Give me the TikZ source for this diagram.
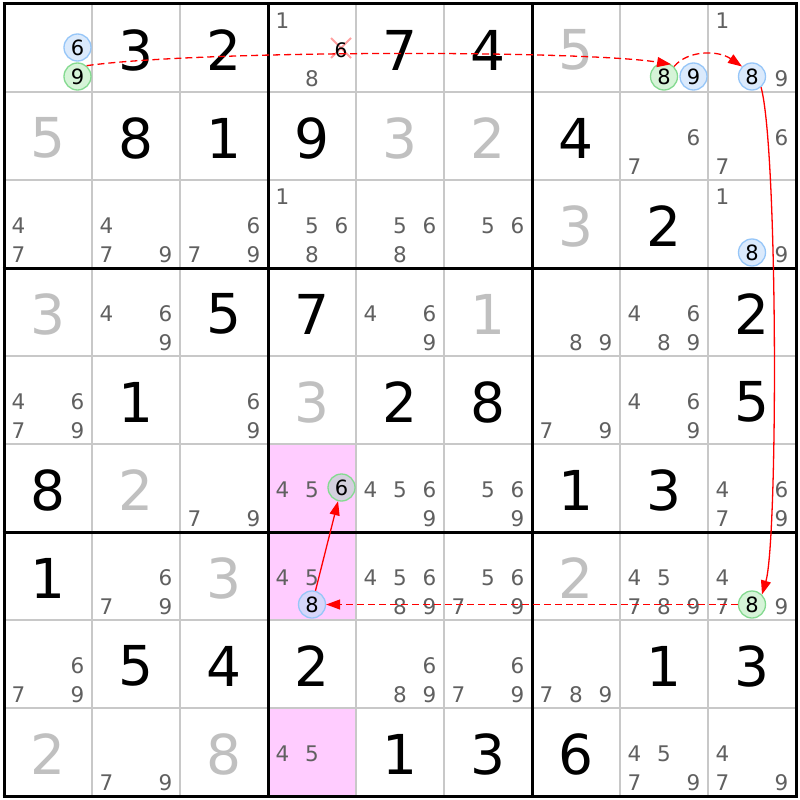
\documentclass[tikz,border=0pt]{standalone}
\usepackage{fontspec}
\setmainfont{DejaVu Sans}
\usetikzlibrary{arrows.meta}
\definecolor{thingrid}{RGB}{200,200,200}
\definecolor{solvedgray}{RGB}{192,192,192}
\definecolor{candgray}{RGB}{96,96,96}
\definecolor{pinkcell}{RGB}{255,204,255}
\definecolor{bluefill}{RGB}{219,234,252}
\definecolor{blueline}{RGB}{150,198,248}
\definecolor{greenfill}{RGB}{214,244,216}
\definecolor{greenline}{RGB}{132,218,144}
\definecolor{crossred}{RGB}{255,160,160}
\definecolor{linkred}{RGB}{255,0,0}
\newcommand\sdGiven[3]{\node[given] (g#1#2) at ({48+88*(#2-1)},{50+88*(#1-1)}) {#3};}
\newcommand\sdSolved[3]{\node[solvedd] (g#1#2) at ({48+88*(#2-1)},{50+88*(#1-1)}) {#3};}
\newcommand\sdCands[3]{\foreach \k in {#3}{\node[cand] (c#1#2\k) at ({18.5+88*(#2-1)+29.5*mod(\k-1,3)},{20.5+88*(#1-1)+29*int((\k-1)/3)}) {\k};}}
\newcommand\sdCirc[5]{\node[#4] (#5) at ({18.5+88*(#2-1)+29.5*mod(#3-1,3)},{18.5+88*(#1-1)+29*int((#3-1)/3)}) {#3};}
\begin{document}
\begin{tikzpicture}[x=1pt,y=-1pt,
  given/.style={text=black, font=\fontsize{55}{55}\selectfont, inner sep=0pt},
  solvedd/.style={given, text=solvedgray},
  cand/.style={text=candgray, font=\fontsize{21.5}{21.5}\selectfont, inner sep=0pt},
  bluec/.style={circle, draw=blueline, fill=bluefill, line width=1.3pt, minimum size=27pt, inner sep=0pt, font=\fontsize{21}{21}\selectfont, text=black},
  greenc/.style={bluec, draw=greenline, fill=greenfill},
  link/.style={draw=linkred, line width=1.3pt, -{Triangle[length=14pt,width=10pt,fill=linkred]}},
  weak/.style={link, dash pattern=on 7pt off 4pt}]
\useasboundingbox (0,0) rectangle (800,800);
\fill[white] (0,0) rectangle (800,800);
% highlighted cells
\fill[pinkcell] (268,444) rectangle (356,620);
\fill[pinkcell] (268,708) rectangle (356,796);
% grid
\foreach \i in {1,2,4,5,7,8}{
  \draw[thingrid, line width=1.2pt] ({4+88*\i},4) -- ({4+88*\i},796);
  \draw[thingrid, line width=1.2pt] (4,{4+88*\i}) -- (796,{4+88*\i});
}
\foreach \i in {0,3,6,9}{
  \draw[black, line width=3pt] ({4+88*\i},2.5) -- ({4+88*\i},797.5);
  \draw[black, line width=3pt] (2.5,{4+88*\i}) -- (797.5,{4+88*\i});
}
% givens
\sdGiven{1}{2}{3}\sdGiven{1}{3}{2}\sdGiven{1}{5}{7}\sdGiven{1}{6}{4}
\sdGiven{2}{2}{8}\sdGiven{2}{3}{1}\sdGiven{2}{4}{9}\sdGiven{2}{7}{4}
\sdGiven{3}{8}{2}
\sdGiven{4}{3}{5}\sdGiven{4}{4}{7}\sdGiven{4}{9}{2}
\sdGiven{5}{2}{1}\sdGiven{5}{5}{2}\sdGiven{5}{6}{8}\sdGiven{5}{9}{5}
\sdGiven{6}{1}{8}\sdGiven{6}{7}{1}\sdGiven{6}{8}{3}
\sdGiven{7}{1}{1}
\sdGiven{8}{2}{5}\sdGiven{8}{3}{4}\sdGiven{8}{4}{2}\sdGiven{8}{8}{1}\sdGiven{8}{9}{3}
\sdGiven{9}{5}{1}\sdGiven{9}{6}{3}\sdGiven{9}{7}{6}
% solved
\sdSolved{1}{7}{5}
\sdSolved{2}{1}{5}\sdSolved{2}{5}{3}\sdSolved{2}{6}{2}
\sdSolved{3}{7}{3}
\sdSolved{4}{1}{3}\sdSolved{4}{6}{1}
\sdSolved{5}{4}{3}
\sdSolved{6}{2}{2}
\sdSolved{7}{3}{3}\sdSolved{7}{7}{2}
\sdSolved{9}{1}{2}\sdSolved{9}{3}{8}
% candidates
\sdCands{1}{4}{1,8}\sdCands{1}{9}{1,9}
\sdCands{2}{8}{6,7}\sdCands{2}{9}{6,7}
\sdCands{3}{1}{4,7}\sdCands{3}{2}{4,7,9}\sdCands{3}{3}{6,7,9}\sdCands{3}{4}{1,5,6,8}
\sdCands{3}{5}{5,6,8}\sdCands{3}{6}{5,6}\sdCands{3}{9}{1,9}
\sdCands{4}{2}{4,6,9}\sdCands{4}{5}{4,6,9}\sdCands{4}{7}{8,9}\sdCands{4}{8}{4,6,8,9}
\sdCands{5}{1}{4,6,7,9}\sdCands{5}{3}{6,9}\sdCands{5}{7}{7,9}\sdCands{5}{8}{4,6,9}
\sdCands{6}{3}{7,9}\sdCands{6}{4}{4,5}\sdCands{6}{5}{4,5,6,9}\sdCands{6}{6}{5,6,9}\sdCands{6}{9}{4,6,7,9}
\sdCands{7}{2}{6,7,9}\sdCands{7}{4}{4,5}\sdCands{7}{5}{4,5,6,8,9}\sdCands{7}{6}{5,6,7,9}
\sdCands{7}{8}{4,5,7,8,9}\sdCands{7}{9}{4,7,9}
\sdCands{8}{1}{6,7,9}\sdCands{8}{5}{6,8,9}\sdCands{8}{6}{6,7,9}\sdCands{8}{7}{7,8,9}
\sdCands{9}{2}{7,9}\sdCands{9}{4}{4,5}\sdCands{9}{8}{4,5,7,9}\sdCands{9}{9}{4,7,9}
% eliminated candidate
\draw[crossred, line width=2pt] (331,38) -- (351,58) (331,58) -- (351,38);
\node[cand, text=black, font=\fontsize{20}{20}\selectfont] (c146) at (341,50) {6};
% circled candidates
\sdCirc{1}{1}{6}{bluec}{n116}
\sdCirc{1}{1}{9}{greenc}{n119}
\sdCirc{1}{8}{8}{greenc}{n188}
\sdCirc{1}{8}{9}{bluec}{n189}
\sdCirc{1}{9}{8}{bluec}{n198}
\sdCirc{3}{9}{8}{bluec}{n398}
\sdCirc{6}{4}{6}{greenc, fill={rgb,255:red,212;green,208;blue,222}}{n646}
\sdCirc{7}{4}{8}{bluec, fill={rgb,255:red,214;green,214;blue,250}}{n748}
\sdCirc{7}{9}{8}{greenc}{n798}
% links
\draw[weak] (n119.50) .. controls (200,50) and (580,50) .. (n188.60);
\draw[weak] (n188.45) .. controls (688,50) and (718,50) .. (n198.135);
\draw[link] (n198.-50) .. controls (778,150) and (778,540) .. (n798.45);
\draw[weak] (n798) -- (n748);
\draw[link] (n748) -- (n646);
\end{tikzpicture}
\end{document}
